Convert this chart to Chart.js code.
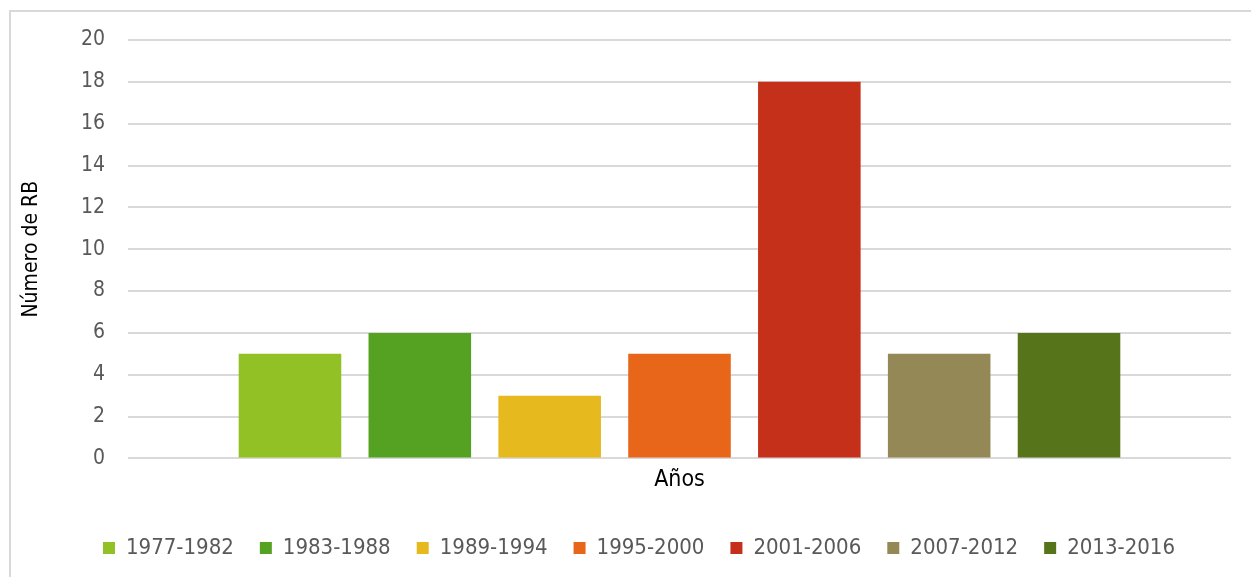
<!DOCTYPE html>
<html>
<head>
<meta charset="utf-8">
<script src="https://cdn.jsdelivr.net/npm/chart.js@4"></script>
<style>
  body { margin: 0; background: #fff; }
  .frame { position: absolute; left: 9px; top: 10px; width: 1260px; height: 600px; border: 2px solid #d9d9d9; box-sizing: border-box; }
  .wrap { position: absolute; left: 0; top: 0; width: 1251px; height: 577px; }
</style>
</head>
<body>
<div class="frame"></div>
<div class="wrap"><canvas id="rbChart" width="1251" height="577"></canvas></div>
<script>
// datos
var periodos = ['1977-1982', '1983-1988', '1989-1994', '1995-2000', '2001-2006', '2007-2012', '2013-2016'];
var numeroRB = [5, 6, 3, 5, 18, 5, 6];
var colores = ['#92c125', '#55a222', '#e6b91e', '#e8661a', '#c5301b', '#948856', '#56741a'];
var categorias = [''];

var fuente = '"DejaVu Sans Condensed", "DejaVu Sans", sans-serif';

var datasets = periodos.map(function(p, i) {
    return {
        label: p,
        data: [numeroRB[i]],
        backgroundColor: colores[i],
        borderWidth: 0,
        categoryPercentage: 0.824,
        barPercentage: 0.79
    };
});

var ctx = document.getElementById('rbChart').getContext('2d');
new Chart(ctx, {
    type: 'bar',
    data: { labels: categorias, datasets: datasets },
    options: {
        responsive: false,
        animation: false,
        layout: { padding: { left: 47, right: 20, top: 40, bottom: 8 } },
        plugins: {
            tooltip: { enabled: false },
            legend: {
                position: 'bottom',
                labels: {
                    boxWidth: 12,
                    boxHeight: 12,
                    padding: 26,
                    color: '#595959',
                    font: { family: fuente, size: 22 }
                }
            }
        },
        scales: {
            x: {
                grid: { display: false },
                border: { display: false },
                ticks: { display: false },
                title: {
                    display: true,
                    text: 'Años',
                    color: '#000',
                    font: { family: fuente, size: 23 },
                    padding: { top: 0, bottom: 17 }
                }
            },
            y: {
                min: 0,
                max: 20,
                ticks: {
                    stepSize: 2,
                    color: '#595959',
                    padding: 23,
                    font: { family: fuente, size: 21 }
                },
                grid: { color: '#d9d9d9', lineWidth: 2, drawTicks: false },
                border: { display: false },
                title: {
                    display: true,
                    text: 'Número de RB',
                    color: '#000',
                    font: { family: fuente, size: 21 },
                    padding: { top: -28, bottom: 0 }
                },
                afterFit: function(scale) { scale.width = 81; }
            }
        }
    }
});
</script>
</body>
</html>
